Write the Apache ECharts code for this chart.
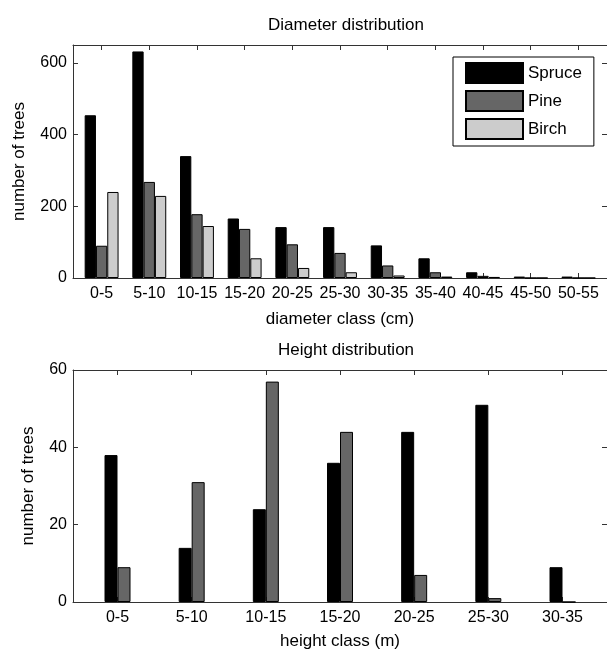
<!DOCTYPE html>
<html>
<head>
<meta charset="utf-8">
<script src="https://cdn.jsdelivr.net/npm/echarts@6/dist/echarts.min.js"></script>
<style>
html,body{margin:0;padding:0;background:#fff;}
#chart{width:607px;height:652px;}
</style>
</head>
<body>
<div id="chart"></div>
<script>
var diamClasses=['0-5','5-10','10-15','15-20','20-25','25-30','30-35','35-40','40-45','45-50','50-55'];
var diamSpruce=[454,632,340,166,142,142,91,55,16,4,4];
var diamPine=[90,268,178,137,94,70,35,16,6,0,0];
var diamBirch=[240,229,145,55,28,16,7,4,3,0,0];
var diamTicks=[0,200,400,600];

var heightClasses=['0-5','5-10','10-15','15-20','20-25','25-30','30-35'];
var heightSpruce=[38,14,24,36,44,51,9];
var heightPine=[9,31,57,44,7,1,0];
var heightTicks=[0,20,40,60];

var FONT='Liberation Sans';
var colors={spruce:'#000000',pine:'#666666',birch:'#cccccc'};

//把类别数据转成 [位置,值]
function toXY(arr){
	var out=[];
	for(var i=0;i<arr.length;i++){
		out.push([i+1,arr[i]]);
	}
	return out;
}
function positions(n){
	var p=[];
	for(var i=1;i<=n;i++)p.push(i);
	return p;
}
function bottomX(idx,cats,name,gap){
	return {
		type:'value',gridIndex:idx,min:0.4,max:cats.length+0.6,
		name:name,nameLocation:'middle',nameGap:gap,
		nameTextStyle:{fontFamily:FONT,fontSize:17,color:'#000'},
		axisLine:{show:true,onZero:false,lineStyle:{color:'#333',width:1}},
		axisTick:{show:true,inside:true,length:5,customValues:positions(cats.length),lineStyle:{color:'#333'}},
		axisLabel:{customValues:positions(cats.length),margin:8,fontFamily:FONT,fontSize:16,color:'#000',
			formatter:function(v){return cats[Math.round(v)-1]||'';}},
		splitLine:{show:false}
	};
}
function topX(idx,cats){
	return {
		type:'value',gridIndex:idx,position:'top',min:0.4,max:cats.length+0.6,
		axisLine:{show:true,onZero:false,lineStyle:{color:'#333',width:1}},
		axisTick:{show:true,inside:true,length:5,customValues:positions(cats.length),lineStyle:{color:'#333'}},
		axisLabel:{show:false},splitLine:{show:false}
	};
}
function leftY(idx,max,ticks,gap){
	return {
		type:'value',gridIndex:idx,min:0,max:max,
		name:'number of trees',nameLocation:'middle',nameGap:gap,nameRotate:90,
		nameTextStyle:{fontFamily:FONT,fontSize:17,color:'#000'},
		axisLine:{show:true,lineStyle:{color:'#333',width:1}},
		axisTick:{show:true,inside:true,length:5,customValues:ticks,lineStyle:{color:'#333'}},
		axisLabel:{customValues:ticks,margin:6,fontFamily:FONT,fontSize:16,color:'#000'},
		splitLine:{show:false}
	};
}
function rightY(idx,max,ticks){
	return {
		type:'value',gridIndex:idx,position:'right',min:0,max:max,
		axisLine:{show:true,lineStyle:{color:'#333',width:1}},
		axisTick:{show:true,inside:true,length:5,customValues:ticks,lineStyle:{color:'#333'}},
		axisLabel:{show:false},splitLine:{show:false}
	};
}
function barSeries(name,data,xi,yi,color,w){
	return {
		type:'bar',name:name,xAxisIndex:xi,yAxisIndex:yi,
		data:toXY(data),barWidth:w,barGap:'0%',
		itemStyle:{color:color,borderColor:'#000',borderWidth:1},
		emphasis:{disabled:true},animation:false
	};
}

var myChart=echarts.init(document.getElementById('chart'),null,{renderer:'canvas'});
var option={
	backgroundColor:'#fff',
	animation:false,
	title:[
		{text:'Diameter distribution',left:341,top:12,textAlign:'center',
			textStyle:{fontFamily:FONT,fontSize:17,fontWeight:'normal',color:'#000'}},
		{text:'Height distribution',left:341,top:337,textAlign:'center',
			textStyle:{fontFamily:FONT,fontSize:17,fontWeight:'normal',color:'#000'}}
	],
	legend:{
		data:['Spruce','Pine','Birch'],
		orient:'vertical',left:453,top:57,
		itemWidth:57,itemHeight:20,itemGap:6,
		padding:[5,12,6,12],
		borderColor:'#000',borderWidth:1,backgroundColor:'#fff',
		icon:'rect',selectedMode:false,
		textStyle:{fontFamily:FONT,fontSize:17,color:'#000'}
	},
	grid:[
		{left:73,top:45,width:536,height:233},
		{left:73,top:370,width:536,height:232}
	],
	xAxis:[
		bottomX(0,diamClasses,'diameter class (cm)',33),
		topX(0,diamClasses),
		bottomX(1,heightClasses,'height class (m)',31),
		topX(1,heightClasses)
	],
	yAxis:[
		leftY(0,650,diamTicks,45),
		rightY(0,650,diamTicks),
		leftY(1,60,heightTicks,36),
		rightY(1,60,heightTicks)
	],
	series:[
		barSeries('Spruce',diamSpruce,0,0,colors.spruce,11.3),
		barSeries('Pine',diamPine,0,0,colors.pine,11.3),
		barSeries('Birch',diamBirch,0,0,colors.birch,11.3),
		barSeries('Spruce',heightSpruce,2,2,colors.spruce,13),
		barSeries('Pine',heightPine,2,2,colors.pine,13)
	]
};
myChart.setOption(option);
</script>
</body>
</html>
